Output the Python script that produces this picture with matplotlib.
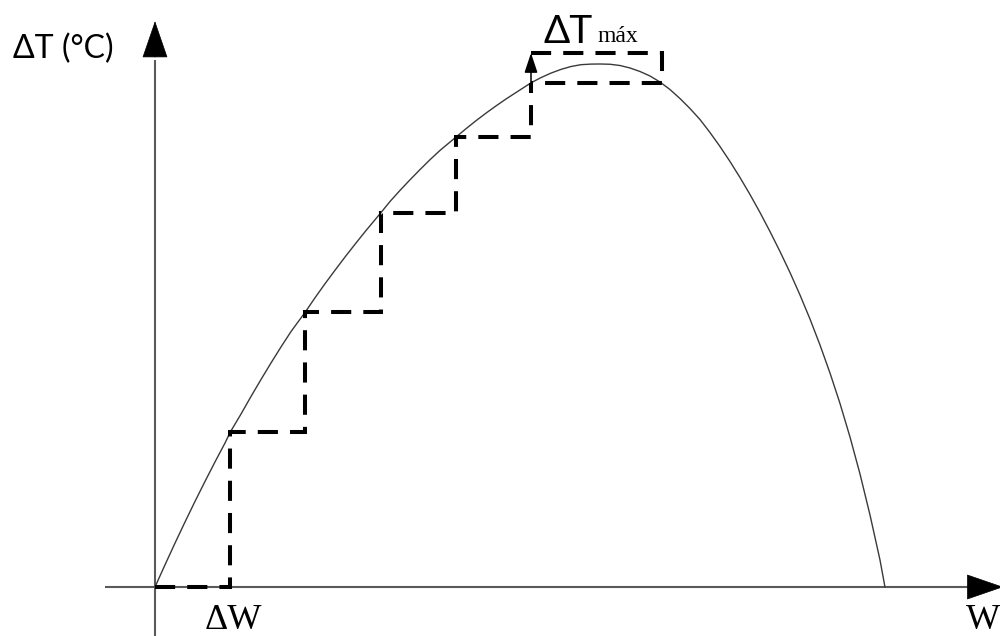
import matplotlib
matplotlib.use("Agg")
import matplotlib.pyplot as plt

# Temperature rise curve: W in units of the step ΔW, ΔT scaled to 100 at the maximum
curve_w = [0.0, 0.133, 0.266, 0.399, 0.532, 0.665, 0.798, 0.931, 1.0,
           1.144, 1.277, 1.410, 1.543, 1.676, 1.809, 2.0,
           2.128, 2.261, 2.394, 2.527, 2.660, 2.793, 3.0,
           3.125, 3.258, 3.391, 3.524, 3.657, 3.790, 4.0,
           4.136, 4.269, 4.402, 4.535, 4.668, 4.801, 5.0,
           5.133, 5.266, 5.399, 5.532, 5.665, 5.798, 5.918,
           6.051, 6.184, 6.316, 6.449, 6.582, 6.715, 6.848, 6.981,
           7.114, 7.247, 7.380, 7.513, 7.646, 7.779, 7.912, 8.045,
           8.178, 8.311, 8.444, 8.577, 8.710, 8.843, 8.976, 9.109,
           9.242, 9.375, 9.508, 9.641, 9.707]
curve_t = [0.0, 4.24, 8.39, 12.43, 16.37, 20.19, 23.92, 27.53, 29.6,
           33.08, 36.44, 39.69, 42.85, 45.91, 48.85, 52.6,
           55.31, 57.99, 60.57, 63.10, 65.54, 67.93, 71.5,
           73.71, 75.83, 77.86, 79.81, 81.70, 83.48, 86.0,
           87.63, 89.16, 90.61, 91.99, 93.31, 94.55, 96.4,
           97.40, 98.26, 98.97, 99.52, 99.87, 99.98, 100.0,
           99.95, 99.71, 99.24, 98.57, 97.71, 96.56, 95.12, 93.40,
           91.49, 89.39, 86.90, 84.23, 81.36, 78.30, 75.05, 71.61,
           67.97, 64.15, 60.13, 55.83, 51.24, 46.27, 40.92, 35.09,
           28.68, 21.61, 13.77, 5.16, 0.0]

# Stepwise increments of W and the resulting ΔT levels
step_w = [0, 1, 2, 3, 4, 5]
step_t = [0.0, 29.6, 52.6, 71.5, 86.0, 96.4]

# ΔTmáx box around the top of the curve (drawn from its top-left corner)
box_w = [5.0, 6.74, 6.74, 5.0]
box_t = [102.1, 102.1, 96.4, 96.4]

fig = plt.figure(figsize=(10, 6.36), dpi=100)
ax = fig.add_axes([0, 0, 1, 1])
ax.set_xlim(-155 / 75.2, 845 / 75.2)
ax.set_ylim(-49 / 5.23, 587 / 5.23)
ax.axis("off")

axis_col = "#5a5a5a"

# coordinate axes with filled arrow heads
ax.plot([-0.665, 10.9], [0, 0], color=axis_col, lw=1.5, solid_capstyle="butt")
ax.plot([0, 0], [-9.4, 100.8], color=axis_col, lw=1.5, solid_capstyle="butt")
ax.annotate("", xy=(11.28, 0), xytext=(10.81, 0), annotation_clip=False,
            arrowprops=dict(arrowstyle="-|>,head_length=25,head_width=8.6",
                            mutation_scale=1, color="black", lw=0.5,
                            shrinkA=0, shrinkB=0))
ax.annotate("", xy=(0, 108.2), xytext=(0, 101.3), annotation_clip=False,
            arrowprops=dict(arrowstyle="-|>,head_length=25,head_width=8.6",
                            mutation_scale=1, color="black", lw=0.5,
                            shrinkA=0, shrinkB=0))

# the curve
ax.plot(curve_w, curve_t, color="#3a3a3a", lw=1.0, zorder=3,
        solid_joinstyle="round")

# staircase of increments
sx, sy = [step_w[0]], [step_t[0]]
for i in range(1, len(step_w)):
    sx += [step_w[i], step_w[i]]
    sy += [step_t[i - 1], step_t[i]]
ax.plot(sx, sy, color="black", lw=2.9, linestyle=(0, (5, 3)),
        dash_capstyle="butt", dash_joinstyle="miter", zorder=4)

# dashed box marking the maximum
ax.plot(box_w, box_t, color="black", lw=2.9, linestyle=(0, (5, 3)),
        dash_capstyle="butt", dash_joinstyle="miter", zorder=4)

# small arrow up to the maximum
ax.annotate("", xy=(step_w[-1], box_t[0]), xytext=(step_w[-1], step_t[-1]),
            arrowprops=dict(arrowstyle="-|>,head_length=12,head_width=4",
                            mutation_scale=1, color="black", lw=1.1,
                            shrinkA=0, shrinkB=0), zorder=5)

# labels
fig.text(13 / 1000, 1 - 58 / 636, "ΔT (°C)", fontsize=23, family="Lato",
         ha="left", va="baseline")
fig.text(544 / 1000, 1 - 43 / 636, "ΔT", fontsize=28, family="Lato",
         ha="left", va="baseline")
fig.text(597 / 1000, 1 - 42 / 636, "máx", fontsize=17, family="Liberation Serif",
         ha="left", va="baseline")
fig.text(233 / 1000, 1 - 629 / 636, "ΔW", fontsize=26, family="Liberation Serif",
         ha="center", va="baseline")
fig.text(966 / 1000, 1 - 629 / 636, "W", fontsize=26, family="Liberation Serif",
         ha="left", va="baseline")

fig.savefig("out.png", dpi=100)
